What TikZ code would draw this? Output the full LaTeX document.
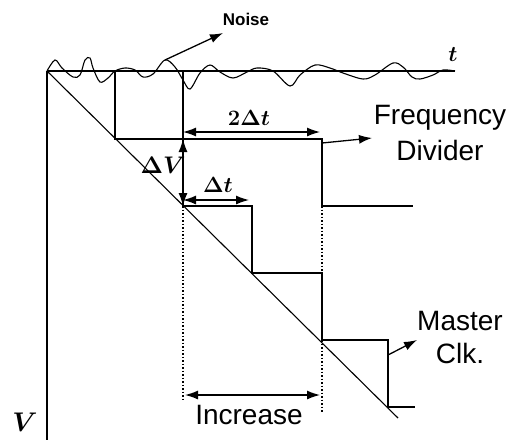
\RequirePackage{fix-cm}
\documentclass[tikz,border=0pt]{standalone}
\usepackage{fontspec}
\setmainfont{Liberation Sans}
\usetikzlibrary{arrows.meta}

\begin{document}
\begin{tikzpicture}[x=1pt, y=-1pt, line width=1.3pt,
  >={Latex[length=13pt,width=9pt]},
  lbl/.style={font=\fontsize{28}{36}\selectfont, inner sep=0pt},
  mlbl/.style={font=\fontsize{22}{24}\selectfont\boldmath, inner sep=0pt},
  guide/.style={dotted, line width=1.5pt}]
\useasboundingbox (0,0) rectangle (521,440);

% Axes
\coordinate (O) at (47,71);
\coordinate (tEnd) at (455,71);
\coordinate (vEnd) at (47,440);
\draw (O) -- (tEnd);
\draw (O) -- (vEnd);

% Ramp
\coordinate (rEnd) at (398,418);
\draw[line width=1.1pt] (O) -- (rEnd);

% Noise on the t axis
\draw[line width=1.1pt] plot[smooth, tension=0.55] coordinates {
  (47,71) (55,60) (62,68) (73,77) (80,75) (85,60) (90,58) (93,68)
  (100,82) (108,78) (115,71) (125,68) (135,70) (143,77) (153,74)
  (165,60) (175,67) (183,80) (190,89) (200,73) (210,65) (220,72)
  (233,78) (247,72) (257,68) (273,71) (290,86) (300,75) (315,65)
  (330,68) (343,73) (363,79) (375,75) (393,63) (403,67) (412,77)
  (420,79) (433,75) (443,70) (455,71)};

% Step corners on the ramp
\coordinate (S1) at (115,139);
\coordinate (S2) at (183,206);
\coordinate (S3) at (252,273);
\coordinate (S4) at (322,340);
\coordinate (S5) at (388,407);

% Master clock
\draw (115,71) -- (S1) -- (S2 |- S1) -- (S2) -- (S3 |- S2) -- (S3)
  -- (S4 |- S3) -- (S4) -- (S5 |- S4) -- (S5) -- (415,407);
\draw (183,71) -- (S2 |- S1);

% Frequency divider
\draw (S2 |- S1) -- (S4 |- S1) -- (S4 |- S2) -- (413,206);

% Guides
\draw[guide] (S2) -- (183,400);
\draw[guide] (S4 |- S2) -- (S4 |- S3);
\draw[guide] (S4) -- (322,412);

% Dimension arrows
\coordinate (a1) at (183,132);
\coordinate (a2) at (320,132);
\draw[<->] (a1) -- (a2);
\coordinate (b1) at (183,200);
\coordinate (b2) at (249,200);
\draw[<->] (b1) -- (b2);
\draw[<->] (S2 |- S1) -- (S2);
\coordinate (c1) at (185,395);
\coordinate (c2) at (320,395);
\draw[<->] (c1) -- (c2);

% Labels
\node[mlbl] (twodt) at (249,118) {$2\Delta t$};
\node[mlbl] (dt) at (218,185) {$\Delta t$};
\node[mlbl, font=\fontsize{24}{26}\selectfont\boldmath] (dV) at (163,165) {$\Delta V$};
\node[mlbl, font=\fontsize{27}{28}\selectfont\boldmath] (V) at (25,422) {$V$};
\node[mlbl] (t) at (453,55) {$t$};
\node[inner sep=0pt, font=\fontsize{17}{18}\selectfont\bfseries] (noise) at (246,19) {Noise};
\node[lbl, align=center] (freq) at (440,133) {Frequency\\Divider};
\node[lbl, align=center, font=\fontsize{28}{33}\selectfont] (mclk) at (460,337) {Master\\Clk.};
\node[lbl] (incr) at (249,415) {Increase};

% Pointers
\coordinate (n0) at (165,60);
\draw[->] (n0) -- (223,33);
\coordinate (f0) at (322,143);
\draw[->] (f0) -- (372,138);
\coordinate (m0) at (388,355);
\draw[->] (m0) -- (417,340);
\end{tikzpicture}
\end{document}
